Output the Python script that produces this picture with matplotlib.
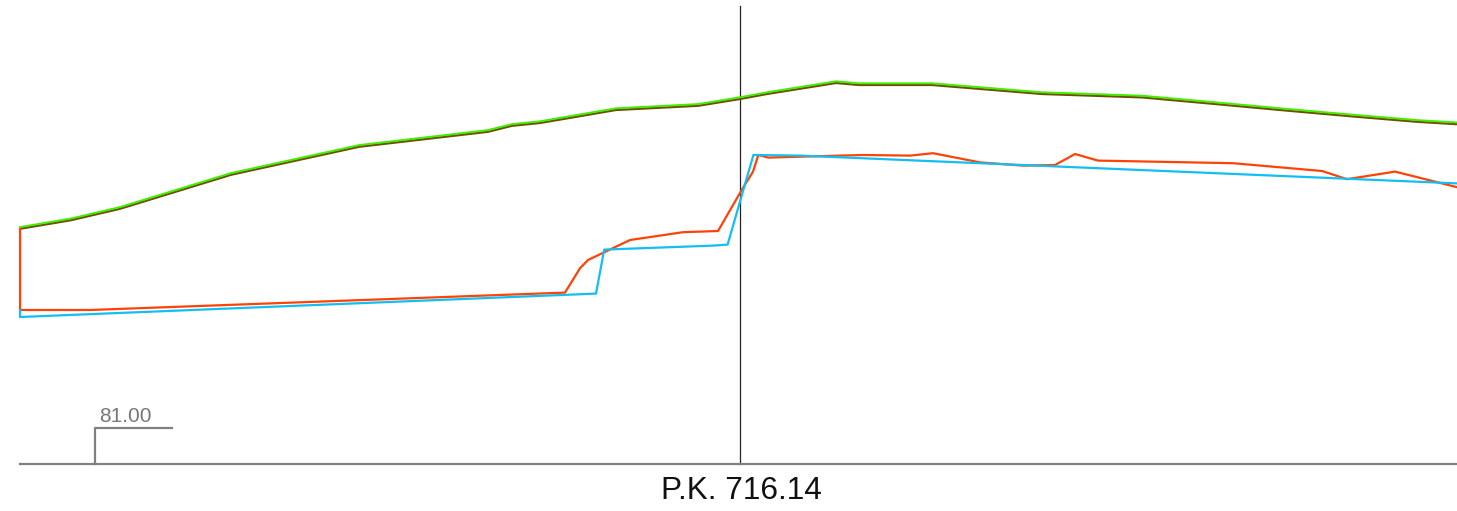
import numpy as np
import matplotlib
matplotlib.use("Agg")
import matplotlib.pyplot as plt
import matplotlib.transforms as mtransforms

plt.rcParams['font.family'] = ['Liberation Sans', 'DejaVu Sans']

# offsets (m) from the axis and elevations (m)
terrain_x = [-36.0, -33.45, -31.0, -25.45, -19.05, -12.6, -11.4, -10.0, -6.2, -2.1, 0.0,
             1.35, 4.8, 5.95, 9.6, 15.1, 20.1, 23.75, 27.45, 30.85, 33.85, 35.85]
terrain_z = [91.0, 91.43, 92.0, 93.7, 95.1, 95.85, 96.15, 96.29, 96.94, 97.15, 97.49,
             97.74, 98.29, 98.19, 98.19, 97.74, 97.57, 97.24, 96.9, 96.6, 96.35, 96.23]

red_x = [-36.0, -36.0, -32.5, -8.75, -8.0, -7.6, -5.5, -2.85, -1.1, 0.085, 0.65, 0.915,
         1.415, 3.15, 6.15, 8.5, 9.65, 12.0, 14.15, 15.75, 16.75, 17.9, 24.65, 29.1,
         30.35, 32.75, 35.85]
red_z = [90.95, 86.9, 86.9, 87.77, 88.99, 89.4, 90.4, 90.79, 90.85, 92.9, 93.82, 94.65,
         94.52, 94.57, 94.65, 94.62, 94.74, 94.28, 94.12, 94.15, 94.7, 94.37, 94.24, 93.85,
         93.44, 93.82, 93.04]

blue_x = [-36.0, -36.0, -7.2, -6.79, -1.34, -0.62, 0.67, 3.0, 35.85]
blue_z = [86.9, 86.55, 87.72, 89.92, 90.12, 90.17, 94.65, 94.62, 93.23]

datum = 79.2
ref_level = 81.0
ref_label = "81.00"
pk_label = "P.K. 716.14"

fig = plt.figure(figsize=(14.57, 5.11), dpi=100)
ax = fig.add_axes([20 / 1457, 47 / 511, 1437 / 1457, 464 / 511])
ax.set_xlim(-36.0, 35.85)
ax.set_ylim(datum, datum + 464 / 20)
ax.axis('off')

# terrain: dark line with a green one drawn just above it
down = mtransforms.offset_copy(ax.transData, fig=fig, x=0, y=-0.8, units='dots')
up = mtransforms.offset_copy(ax.transData, fig=fig, x=0, y=0.9, units='dots')
ax.plot(terrain_x, terrain_z, color='#6e5000', lw=1.6, clip_on=False, transform=down, zorder=3)
ax.plot(terrain_x, terrain_z, color='#40f000', lw=1.4, clip_on=False, transform=up, zorder=4)

ax.plot(red_x, red_z, color='#ff4205', lw=1.6, clip_on=False, zorder=3)
ax.plot(blue_x, blue_z, color='#12bff2', lw=1.6, clip_on=False, zorder=3)

# axis line and baseline
ax.plot([0, 0], [datum, 102.1], color='#222222', lw=0.9, clip_on=False, zorder=2)
ax.plot([-36.0, 35.85], [datum, datum], color='#808080', lw=1.6, clip_on=False, zorder=2)

# reference level bracket
ax.plot([-32.25, -32.25, -28.4], [datum, ref_level, ref_level], color='#808080',
        lw=1.6, clip_on=False, zorder=2)
ax.text(-32.05, ref_level + 0.3, ref_label, color='#777777', fontsize=15, ha='left',
        va='baseline')

fig.text(741 / 1457, 12 / 511, pk_label, fontsize=22.7, ha='center', va='baseline',
         color='#111111')

fig.savefig('out.png', dpi=100)
